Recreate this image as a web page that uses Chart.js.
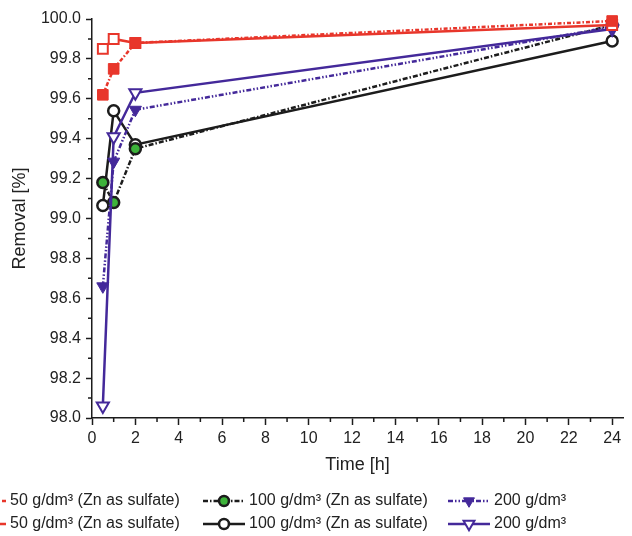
<!DOCTYPE html>
<html>
<head>
<meta charset="utf-8">
<script src="https://cdn.jsdelivr.net/npm/chart.js@4/dist/chart.umd.min.js"></script>
<style>
  html, body { margin: 0; padding: 0; background: #fff; }
  #wrap { width: 632px; height: 536px; }
</style>
</head>
<body>
<div id="wrap"><canvas id="c" width="632" height="536"></canvas></div>
<script>
// ---- data ----
const timeH = [0.5, 1, 2, 24];
const red50Dotted = [99.62, 99.75, 99.88, 99.99];
const red50Solid = [99.85, 99.90, 99.88, 99.97];
const blk100Dotted = [99.18, 99.08, 99.35, 99.97];
const blk100Solid = [99.065, 99.54, 99.37, 99.89];
const pur200Dotted = [98.66, 99.285, 99.545, 99.96];
const pur200Solid = [98.06, 99.41, 99.63, 99.95];
const xTicks = [0, 2, 4, 6, 8, 10, 12, 14, 16, 18, 20, 22, 24];
const xMinorTicks = [1, 3, 5, 7, 9, 11, 13, 15, 17, 19, 21, 23];
const yTicks = [98.0, 98.2, 98.4, 98.6, 98.8, 99.0, 99.2, 99.4, 99.6, 99.8, 100.0];
const yMinorTicks = [98.1, 98.3, 98.5, 98.7, 98.9, 99.1, 99.3, 99.5, 99.7, 99.9];
const labels = [
  '50 g/dm³ (Zn as sulfate)', '50 g/dm³ (Zn as sulfate)',
  '100 g/dm³ (Zn as sulfate)', '100 g/dm³ (Zn as sulfate)',
  '200 g/dm³', '200 g/dm³'
];
const xTitle = 'Time [h]';
const yTitle = 'Removal [%]';

const RED = '#e8362b';
const PURPLE = '#44299a';
const BLACK = '#1c1c1c';
const GREEN = '#3db33a';
const FONT = "'Liberation Sans', Arial, sans-serif";

function pts(ys) { return timeH.map((t, i) => ({ x: t, y: ys[i] })); }

const datasets = [
  { label: labels[0], data: pts(red50Dotted), borderColor: RED, backgroundColor: RED,
    borderDash: [4, 2, 1.5, 2], pointStyle: 'rect', pointRadius: 7.5, pointBorderWidth: 1,
    pointBackgroundColor: RED, pointBorderColor: RED },
  { label: labels[1], data: pts(red50Solid), borderColor: RED, backgroundColor: RED,
    borderDash: [], pointStyle: 'rect', pointRadius: 7, pointBorderWidth: 2,
    pointBackgroundColor: '#fff', pointBorderColor: RED },
  { label: labels[4], data: pts(pur200Dotted), borderColor: PURPLE, backgroundColor: PURPLE,
    borderDash: [5, 2, 1.5, 2, 1.5, 2], pointStyle: 'triangle', pointRotation: 180, pointRadius: 7,
    pointBorderWidth: 1, pointBackgroundColor: PURPLE, pointBorderColor: PURPLE },
  { label: labels[5], data: pts(pur200Solid), borderColor: PURPLE, backgroundColor: PURPLE,
    borderDash: [], pointStyle: 'triangle', pointRotation: 180, pointRadius: 7,
    pointBorderWidth: 2, pointBackgroundColor: '#fff', pointBorderColor: PURPLE },
  { label: labels[2], data: pts(blk100Dotted), borderColor: BLACK, backgroundColor: GREEN,
    borderDash: [5, 2, 1.5, 2], pointStyle: 'circle', pointRadius: 5.5, pointBorderWidth: 2.5,
    pointBackgroundColor: GREEN, pointBorderColor: BLACK },
  { label: labels[3], data: pts(blk100Solid), borderColor: BLACK, backgroundColor: '#fff',
    borderDash: [], pointStyle: 'circle', pointRadius: 5.5, pointBorderWidth: 2.5,
    pointBackgroundColor: '#fff', pointBorderColor: BLACK }
];
datasets.forEach(d => { d.borderWidth = 2.5; d.fill = false; d.tension = 0; d.clip = false; d.pointHoverRadius = d.pointRadius; });

// legend layout: [datasetIndex, textX, textY]
const legendSlots = [
  [0, 10, 501], [4, 249, 501], [2, 494, 501],
  [1, 10, 524], [5, 249, 524], [3, 494, 524]
];

const minorTicksPlugin = {
  id: 'minorTicks',
  afterDraw(chart) {
    const ctx = chart.ctx, xs = chart.scales.x, ys = chart.scales.y, a = chart.chartArea;
    ctx.save();
    ctx.strokeStyle = BLACK; ctx.lineWidth = 1.5;
    ctx.beginPath();
    xMinorTicks.forEach(v => { const px = xs.getPixelForValue(v); ctx.moveTo(px, a.bottom); ctx.lineTo(px, a.bottom + 4); });
    yMinorTicks.forEach(v => { const py = ys.getPixelForValue(v); ctx.moveTo(a.left, py); ctx.lineTo(a.left - 4, py); });
    ctx.stroke();
    ctx.restore();
  }
};

const legendPlugin = {
  id: 'customLegend',
  afterDraw(chart) {
    const ctx = chart.ctx;
    ctx.save();
    legendSlots.forEach(([di, tx, ty]) => {
      const ds = chart.data.datasets[di];
      const x1 = tx - 46, x2 = tx - 4, cx = (x1 + x2) / 2;
      ctx.strokeStyle = ds.borderColor; ctx.lineWidth = ds.borderWidth;
      ctx.setLineDash(ds.borderDash || []);
      ctx.beginPath(); ctx.moveTo(x1, ty); ctx.lineTo(x2, ty); ctx.stroke();
      ctx.setLineDash([]);
      ctx.fillStyle = ds.pointBackgroundColor; ctx.strokeStyle = ds.pointBorderColor;
      ctx.lineWidth = ds.pointBorderWidth;
      Chart.helpers.drawPoint(ctx, { pointStyle: ds.pointStyle, rotation: ds.pointRotation || 0,
        radius: ds.pointRadius * 0.9, borderWidth: ds.pointBorderWidth }, cx, ty);
      ctx.fillStyle = '#222';
      ctx.font = '16px ' + FONT;
      ctx.textBaseline = 'middle'; ctx.textAlign = 'left';
      ctx.fillText(ds.label, tx, ty);
    });
    ctx.restore();
  }
};

new Chart(document.getElementById('c'), {
  type: 'line',
  data: { datasets },
  options: {
    responsive: false,
    animation: false,
    devicePixelRatio: 1,
    layout: { padding: { top: 19, bottom: 58, left: 0, right: 0 } },
    plugins: { legend: { display: false }, tooltip: { enabled: false } },
    scales: {
      x: {
        type: 'linear', min: 0, max: 24.5,
        afterBuildTicks: s => { s.ticks = xTicks.map(v => ({ value: v })); },
        afterFit: s => { s.height = 60; },
        grid: { display: true, drawOnChartArea: false, drawTicks: true, tickLength: 7, tickColor: BLACK, tickWidth: 1.5 },
        border: { display: true, color: BLACK, width: 1.5 },
        ticks: { color: '#222', font: { family: FONT, size: 16 }, padding: 4, maxRotation: 0, autoSkip: false,
                 callback: v => String(v) },
        title: { display: true, text: xTitle, color: '#222', font: { family: FONT, size: 18 }, padding: { top: 0, bottom: 2 } }
      },
      y: {
        type: 'linear', min: 98, max: 100,
        afterBuildTicks: s => { s.ticks = yTicks.map(v => ({ value: v })); },
        afterFit: s => { s.width = 92; },
        grid: { display: true, drawOnChartArea: false, drawTicks: true, tickLength: 6, tickColor: BLACK, tickWidth: 1.5 },
        border: { display: true, color: BLACK, width: 1.5 },
        ticks: { color: '#222', font: { family: FONT, size: 16 }, padding: 5, autoSkip: false,
                 callback: v => Number(v).toFixed(1) },
        title: { display: true, text: yTitle, color: '#222', font: { family: FONT, size: 18 }, padding: { top: 9, bottom: 0 } }
      }
    }
  },
  plugins: [minorTicksPlugin, legendPlugin]
});
</script>
</body>
</html>
